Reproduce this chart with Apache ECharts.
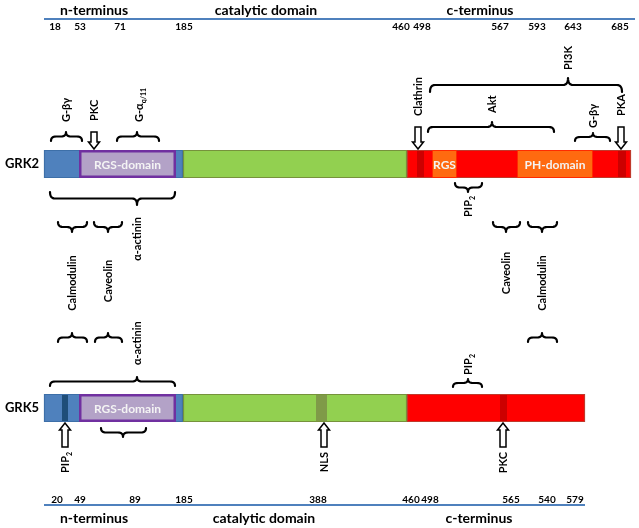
<!DOCTYPE html>
<html><head><meta charset="utf-8">
<script src="https://cdn.jsdelivr.net/npm/echarts@6/dist/echarts.min.js"></script>
<style>html,body{margin:0;padding:0;background:#fff}#c{width:639px;height:528px}</style>
</head><body><div id="c"></div>
<script>
const FONT = 'Lato, "Noto Sans", sans-serif';

// ---------- header / footer ----------
const regionNames = ['n-terminus', 'catalytic domain', 'c-terminus'];
const topRegionX = [94, 266, 480];
const bottomRegionX = [94, 264, 479];
const topTickLabels = ['18', '53', '71', '185', '460', '498', '567', '593', '643', '685'];
const topTickX = [55, 80, 120, 184, 401, 422, 500, 537, 573, 620];
const bottomTickLabels = ['20', '49', '89', '185', '388', '460', '498', '565', '540', '579'];
const bottomTickX = [57, 80, 135, 184, 318, 411, 430, 511, 547, 575];
const headerLineStart = [44, 44];
const headerLineEnd = [635, 585];
const headerLineY = [19, 505];

// ---------- proteins ----------
const proteins = ['GRK2', 'GRK5'];
const proteinTop = [150, 394];
const proteinBottom = [178, 422];

const segProtein = [0, 0, 0, 1, 1, 1];
const segType = ['n', 'cat', 'c', 'n', 'cat', 'c'];
const segStart = [44, 183, 407, 44, 183, 407];
const segEnd = [183, 407, 631, 183, 407, 585];

const siteProtein = [0, 0, 1, 1, 1];
const siteType = ['c', 'c', 'n', 'cat', 'c'];
const siteStart = [417, 618, 62, 316, 500];
const siteEnd = [424, 626, 68, 327, 507];

const domainNames = ['RGS-domain', 'RGS', 'PH-domain', 'RGS-domain'];
const domainType = ['rgsd', 'orange', 'orange', 'rgsd'];
const domainProtein = [0, 0, 0, 1];
const domainStart = [79, 432, 517, 79];
const domainEnd = [176, 457, 593, 176];

// ---------- point interactions (arrows) ----------
const arrowNames = ['PKC', 'Clathrin', 'PKA', 'PIP_2', 'NLS', 'PKC'];
const arrowX = [94, 418, 621, 65, 324, 503];
const arrowTail = [132, 127, 127, 447, 447, 447];
const arrowTip = [149, 149, 149, 423, 423, 423];

// ---------- region interactions (braces) ----------
const braceStart = [51, 117, 428, 430, 575, 50, 455, 58, 94, 493, 528, 58, 95, 528, 50, 453, 101];
const braceEnd   = [82, 159, 554, 622, 610, 175, 482, 87, 122, 520, 557, 87, 122, 557, 175, 482, 146];
const braceTip   = [66, 137, 492, 568, 593, 137, 468, 72, 108, 506, 542, 72, 108, 542, 137, 468, 123];
const braceEndY  = [141, 141, 132, 92, 141, 192, 183, 222, 222, 222, 222, 342, 342, 342, 386, 387, 428];
const braceTipY  = [132, 132, 122, 78, 133, 205, 192, 232, 232, 232, 232, 333, 333, 333, 377, 379, 437];

// ---------- partner labels (vertical text) ----------
const labelTexts = ['G-βγ', 'G-α_q/11', 'Akt', 'PI3K', 'G-βγ', 'PIP_2', 'α-actinin',
  'Calmodulin', 'Caveolin', 'Caveolin', 'Calmodulin', 'α-actinin', 'PIP_2'];
const labelX = [66, 139, 492, 568, 593, 468, 137, 72, 108, 506, 542, 137, 468];
const labelY = [122, 122, 113, 70, 128, 196, 217, 283, 281, 273, 283, 365, 375];
const labelAlign = ['left', 'left', 'left', 'left', 'left', 'right', 'right',
  'center', 'center', 'center', 'center', 'left', 'left'];

// ---------- styles ----------
const segFill = { n: '#4f81bd', cat: '#92d050', c: '#ff0000' };
const segStroke = { n: '#3d6fa8', cat: '#76923c', c: '#c0392b' };
const siteFill = { n: '#1f4e79', cat: '#7f9a48', c: '#cc0000' };
const domainFill = { rgsd: '#b3a2c7', orange: '#ff6a10' };
const domainStroke = { rgsd: '#7030a0', orange: '#ff2a00' };
const domainLW = { rgsd: 2.5, orange: 1 };

function rich(txt, size) {
  const parts = txt.split('_');
  const s = parts.length > 1 ? '{b|' + parts[0] + '}{s|' + parts[1] + '}' : '{b|' + txt + '}';
  return {
    text: s,
    rich: {
      b: { fontSize: size, fontWeight: 'bold', fontFamily: FONT, fill: '#000', lineHeight: 16 },
      s: { fontSize: Math.round(size * 0.62), fontWeight: 'bold', fontFamily: FONT, fill: '#000', lineHeight: 7, verticalAlign: 'bottom' }
    }
  };
}

function textSeries(texts, xs, ys, opt) {
  return {
    type: 'custom', z: opt.z || 10, clip: false, silent: true,
    data: xs.map((x, i) => [x, ys[i]]),
    renderItem: (p, api) => {
      const i = p.dataIndex;
      const c = api.coord([api.value(0), api.value(1)]);
      const r = rich(texts[i], opt.size);
      return {
        type: 'text', x: c[0], y: c[1], rotation: opt.rotate ? Math.PI / 2 : 0,
        style: {
          text: r.text, rich: r.rich, fill: '#000', fontFamily: FONT, fontWeight: 'bold',
          fontSize: opt.size,
          align: opt.aligns ? opt.aligns[i] : 'center', verticalAlign: 'middle'
        }
      };
    }
  };
}

function quad(p0, p1, p2, out) {
  for (let k = 1; k <= 8; k++) {
    const t = k / 8, u = 1 - t;
    out.push([u * u * p0[0] + 2 * u * t * p1[0] + t * t * p2[0], u * u * p0[1] + 2 * u * t * p1[1] + t * t * p2[1]]);
  }
}

const series = [];

// header lines
series.push({
  type: 'custom', z: 1, clip: false, silent: true,
  data: headerLineY.map((y, i) => [headerLineStart[i], headerLineEnd[i], y]),
  renderItem: (p, api) => {
    const a = api.coord([api.value(0), api.value(2)]);
    const b = api.coord([api.value(1), api.value(2)]);
    return { type: 'line', shape: { x1: a[0], y1: a[1], x2: b[0], y2: b[1] }, style: { stroke: '#4f81bd', lineWidth: 2 } };
  }
});

series.push(textSeries(regionNames, topRegionX, regionNames.map(() => 10), { size: 14 }));
series.push(textSeries(regionNames, bottomRegionX, regionNames.map(() => 518), { size: 14 }));
series.push(textSeries(topTickLabels, topTickX, topTickX.map(() => 27), { size: 10 }));
series.push(textSeries(bottomTickLabels, bottomTickX, bottomTickX.map(() => 499.5), { size: 10 }));
series.push(textSeries(proteins, proteins.map(() => 22), proteinTop.map((t, i) => (t + proteinBottom[i]) / 2), { size: 13 }));

// protein segments
series.push({
  type: 'custom', z: 2, clip: false, silent: true,
  data: segStart.map((s, i) => [s, segEnd[i], proteinTop[segProtein[i]], proteinBottom[segProtein[i]]]),
  renderItem: (p, api) => {
    const i = p.dataIndex;
    const a = api.coord([api.value(0), api.value(2)]);
    const b = api.coord([api.value(1), api.value(3)]);
    return {
      type: 'rect', shape: { x: a[0] + 0.5, y: a[1] + 0.5, width: b[0] - a[0] - 1, height: b[1] - a[1] - 1 },
      style: { fill: segFill[segType[i]], stroke: segStroke[segType[i]], lineWidth: 1.2 }
    };
  }
});

// sites (darker bands)
series.push({
  type: 'custom', z: 3, clip: false, silent: true,
  data: siteStart.map((s, i) => [s, siteEnd[i], proteinTop[siteProtein[i]], proteinBottom[siteProtein[i]]]),
  renderItem: (p, api) => {
    const i = p.dataIndex;
    const a = api.coord([api.value(0), api.value(2)]);
    const b = api.coord([api.value(1), api.value(3)]);
    return {
      type: 'rect', shape: { x: a[0], y: a[1] + 1, width: b[0] - a[0], height: b[1] - a[1] - 2 },
      style: { fill: siteFill[siteType[i]] }
    };
  }
});

// domains
series.push({
  type: 'custom', z: 4, clip: false, silent: true,
  data: domainStart.map((s, i) => [s, domainEnd[i], proteinTop[domainProtein[i]], proteinBottom[domainProtein[i]]]),
  renderItem: (p, api) => {
    const i = p.dataIndex;
    const t = domainType[i];
    const a = api.coord([api.value(0), api.value(2)]);
    const b = api.coord([api.value(1), api.value(3)]);
    const lw = domainLW[t];
    return {
      type: 'group', children: [
        { type: 'rect', shape: { x: a[0] + lw / 2, y: a[1] + lw / 2, width: b[0] - a[0] - lw, height: b[1] - a[1] - lw },
          style: { fill: domainFill[t], stroke: domainStroke[t], lineWidth: lw } },
        { type: 'text', x: (a[0] + b[0]) / 2, y: (a[1] + b[1]) / 2 + 1,
          style: { text: domainNames[i], fill: '#f4f4f4', fontFamily: FONT, fontWeight: 'bold', fontSize: 12, align: 'center', verticalAlign: 'middle' } }
      ]
    };
  }
});

// arrows
series.push({
  type: 'custom', z: 6, clip: false, silent: true,
  data: arrowX.map((x, i) => [x, arrowTail[i], arrowTip[i]]),
  renderItem: (p, api) => {
    const tail = api.coord([api.value(0), api.value(1)]);
    const tip = api.coord([api.value(0), api.value(2)]);
    const x = tail[0], d = tip[1] > tail[1] ? 1 : -1, hb = tip[1] - d * 7;
    return {
      type: 'polygon',
      shape: { points: [[x - 3, tail[1]], [x + 3, tail[1]], [x + 3, hb], [x + 5.5, hb], [x, tip[1]], [x - 5.5, hb], [x - 3, hb]] },
      style: { fill: '#fff', stroke: '#000', lineWidth: 1.5, lineJoin: 'miter' }
    };
  }
});

// arrow labels
series.push(textSeries(arrowNames, arrowX,
  arrowTail.map((t, i) => arrowTip[i] > t ? t - 11 : t + 5),
  { size: 11, rotate: true, aligns: arrowTail.map((t, i) => arrowTip[i] > t ? 'left' : 'right') }));

// braces
series.push({
  type: 'custom', z: 6, clip: false, silent: true,
  data: braceStart.map((s, i) => [s, braceEnd[i], braceTip[i], braceEndY[i], braceTipY[i]]),
  renderItem: (p, api) => {
    const a = api.coord([api.value(0), api.value(3)]);
    const b = api.coord([api.value(1), api.value(3)]);
    const t = api.coord([api.value(2), api.value(4)]);
    const x1 = a[0], x2 = b[0], xt = t[0], yE = a[1], yT = t[1];
    const yB = (yE + yT) / 2;
    const r = Math.min(5, (x2 - x1) / 5);
    const pts = [[x1, yE]];
    quad([x1, yE], [x1, yB], [x1 + r, yB], pts);
    pts.push([xt - r, yB]);
    quad([xt - r, yB], [xt, yB], [xt, yT], pts);
    quad([xt, yT], [xt, yB], [xt + r, yB], pts);
    pts.push([x2 - r, yB]);
    quad([x2 - r, yB], [x2, yB], [x2, yE], pts);
    return { type: 'polyline', shape: { points: pts }, style: { stroke: '#000', lineWidth: 2.2, fill: null, lineJoin: 'round', lineCap: 'round' } };
  }
});

// partner labels
series.push(textSeries(labelTexts, labelX, labelY, { size: 11, rotate: true, aligns: labelAlign }));

const chart = echarts.init(document.getElementById('c'));
chart.setOption({
  animation: false,
  grid: { left: 0, right: 0, top: 0, bottom: 0 },
  xAxis: { type: 'value', min: 0, max: 639, show: false },
  yAxis: { type: 'value', min: 0, max: 528, inverse: true, show: false },
  series: series
});
</script></body></html>
